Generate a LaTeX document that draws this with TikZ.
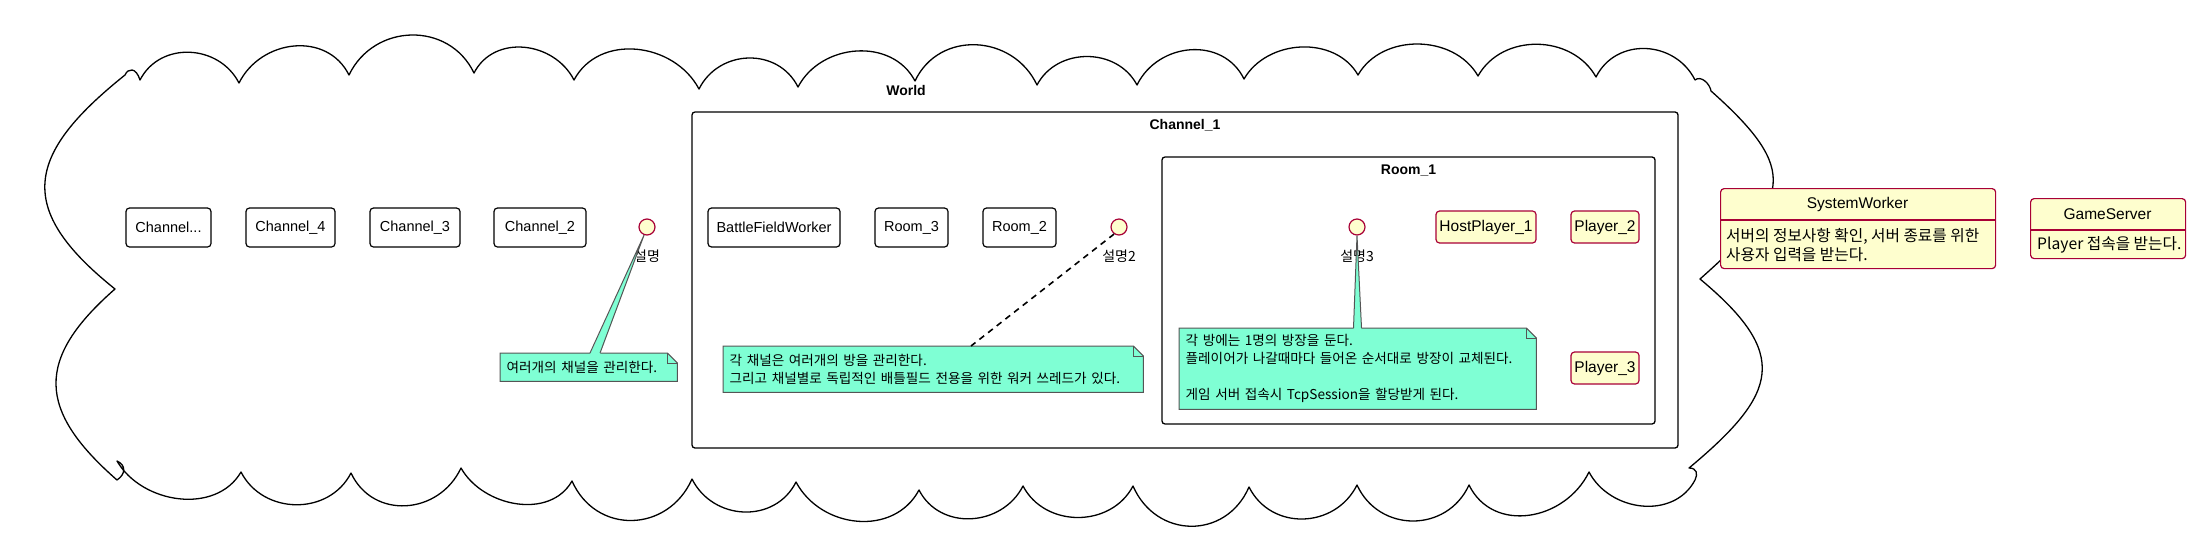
\documentclass[tikz,border=0pt]{standalone}
\usepackage{fontspec}
\setmainfont{Liberation Sans}
\newfontfamily\kr{Noto Sans CJK KR}
\usepackage{tikz}
\usetikzlibrary{calc,backgrounds}
\definecolor{umlred}{HTML}{A80036}
\definecolor{umlyellow}{HTML}{FEFECE}
\definecolor{notefill}{HTML}{7FFFD4}
\definecolor{noteline}{HTML}{555555}
\newcommand{\notebox}[1]{\begin{scope}[on background layer]
  \filldraw[notebg] (#1.north west) -- ($(#1.north east)+(-10,0)$) -- ($(#1.north east)+(0,10)$)
    -- (#1.south east) -- (#1.south west) -- cycle;
  \draw[notebg,fill=none] ($(#1.north east)+(-10,0)$) |- ($(#1.north east)+(0,10)$);\end{scope}}
\newcommand{\notetail}[4]{\fill[notefill] (#1) -- ($(#2.north west)+(#3,1.2)$) -- ($(#2.north west)+(#3+#4,1.2)$) -- cycle;
  \draw[noteline,line width=1pt] ($(#2.north west)+(#3,0)$) -- (#1) -- ($(#2.north west)+(#3+#4,0)$);}

\begin{document}
\begin{tikzpicture}[x=1pt,y=-1pt,
  cloudline/.style={line width=1.3pt,line join=round},
  pkg/.style={draw,line width=1.3pt,rounded corners=3pt},
  pkgtitle/.style={font=\bfseries\fontsize{14}{16}\selectfont},
  plainbox/.style={draw,line width=1.2pt,rounded corners=3.5pt,fill=white,minimum height=39pt,inner sep=0pt,font=\fontsize{14.5}{17}\selectfont},
  agent/.style={draw=umlred,fill=umlyellow,line width=1.2pt,rounded corners=3.5pt,minimum height=32pt,inner sep=0pt,font=\fontsize{15.5}{18}\selectfont},
  iface/.style={circle,draw=umlred,fill=umlyellow,line width=1.2pt,minimum size=16pt,inner sep=0pt},
  ilabel/.style={font=\kr\fontsize{14}{16}\selectfont},
  notetext/.style={font=\kr\fontsize{13.6}{18}\selectfont,align=left,inner xsep=6.5pt,inner ysep=0pt,anchor=north west},
  notebg/.style={fill=notefill,draw=noteline,line width=1pt},
  dashline/.style={line width=1.6pt,dash pattern=on 6pt off 5pt},
  clsbox/.style={draw=umlred,fill=umlyellow,line width=1.2pt,rounded corners=3.5pt,inner sep=0pt,anchor=north west},
  clstitle/.style={font=\fontsize{15.5}{18}\selectfont},
  clsbody/.style={font=\kr\fontsize{15.7}{19}\selectfont,align=left,anchor=west,inner sep=0pt}]
\useasboundingbox (0,0) rectangle (2191,555);

\draw[cloudline] (140,80)
  .. controls +(20,-39) and +(-20,-39) .. (239,83)
  .. controls +(22,-44) and +(-22,-44) .. (349,75)
  .. controls +(25,-52) and +(-25,-52) .. (474,73)
  .. controls +(20,-39) and +(-20,-39) .. (574,80)
  .. controls +(25,-47) and +(-25,-47) .. (699,89)
  .. controls +(20,-40) and +(-20,-40) .. (798,87)
  .. controls +(23,-44) and +(-23,-44) .. (915,81)
  .. controls +(24,-51) and +(-24,-51) .. (1037,85)
  .. controls +(20,-38) and +(-20,-38) .. (1137,85)
  .. controls +(21,-43) and +(-21,-43) .. (1244,79)
  .. controls +(23,-40) and +(-23,-40) .. (1358,75)
  .. controls +(24,-42) and +(-24,-42) .. (1478,76)
  .. controls +(24,-43) and +(-24,-43) .. (1596,77)
  .. controls +(20,-40) and +(-20,-40) .. (1695,80)
  .. controls +(6,-5) and +(-1,-7) .. (1711,91)
  .. controls +(90,80) and +(90,-80) .. (1700,279)
  .. controls +(90,75) and +(90,-75) .. (1689,468)
  .. controls +(8,0) and +(3,-6) .. (1695,480)
  .. controls +(-21,40) and +(21,40) .. (1589,472)
  .. controls +(-24,49) and +(24,49) .. (1469,485)
  .. controls +(-22,48) and +(22,48) .. (1357,485)
  .. controls +(-22,44) and +(22,44) .. (1249,487)
  .. controls +(-23,53) and +(23,53) .. (1133,486)
  .. controls +(-22,42) and +(22,42) .. (1023,486)
  .. controls +(-21,41) and +(21,41) .. (919,490)
  .. controls +(-25,47) and +(25,47) .. (796,482)
  .. controls +(-21,42) and +(21,42) .. (692,479)
  .. controls +(-24,54) and +(24,54) .. (572,481)
  .. controls +(-22,39) and +(22,39) .. (461,468)
  .. controls +(-22,47) and +(22,47) .. (351,473)
  .. controls +(-22,43) and +(22,43) .. (241,472)
  .. controls +(-25,43) and +(25,43) .. (117,461)
  .. controls +(9,4) and +(9,-6) .. (117,480)
  .. controls +(-80,-70) and +(-80,70) .. (115,289)
  .. controls +(-100,-80) and +(-100,80) .. (125,75)
  .. controls +(3,-7) and +(-4,-13) .. (140,80) -- cycle;
\node[pkgtitle] (world) at (906,90) {World};

\draw[pkg] (692,112) rectangle (1678,448);
\node[pkgtitle] (channel1) at (1185,125) {Channel\_1};
\draw[pkg] (1162,157) rectangle (1655,424);
\node[pkgtitle] (room1) at (1408.5,171) {Room\_1};

\node[plainbox,minimum width=85pt] (chdots) at (168.5,227.5) {Channel...};
\node[plainbox,minimum width=89pt] (ch4) at (290.5,227.5) {Channel\_4};
\node[plainbox,minimum width=90pt] (ch3) at (415,227.5) {Channel\_3};
\node[plainbox,minimum width=92pt] (ch2) at (540,227.5) {Channel\_2};
\node[plainbox,minimum width=132pt] (bfw) at (774,227.5) {BattleFieldWorker};
\node[plainbox,minimum width=73pt] (room3) at (911.5,227.5) {Room\_3};
\node[plainbox,minimum width=73pt] (room2) at (1019.5,227.5) {Room\_2};

\node[iface] (c1) at (647,227) {};
\node[ilabel] (c1l) at (647,256) {설명};
\node[iface] (c2) at (1119,227) {};
\node[ilabel] (c2l) at (1119,256) {설명2};
\node[iface] (c3) at (1357,227) {};
\node[ilabel] (c3l) at (1357,256) {설명3};

\node[notetext,text width=164pt,minimum height=28pt] (n1) at (500,353) {여러개의 채널을 관리한다.};
\notebox{n1}
\node[notetext,text width=407pt,minimum height=46pt] (n2) at (723,346) {각 채널은 여러개의 방을 관리한다.\\그리고 채널별로 독립적인 배틀필드 전용을 위한 워커 쓰레드가 있다.};
\notebox{n2}
\node[notetext,text width=344pt,minimum height=81pt] (n3) at (1179,328) {각 방에는 1명의 방장을 둔다.\\플레이어가 나갈때마다 들어온 순서대로 방장이 교체된다.\\[18pt]게임 서버 접속시 TcpSession을 할당받게 된다.};
\notebox{n3}
\notetail{c1.250}{n1}{90}{10}
\notetail{c3.south}{n3}{174.5}{8}
\draw[dashline] (c2.235) -- ($(n2.north west)+(248,0)$);

\node[agent,minimum width=100pt] (host1) at (1486,227) {HostPlayer\_1};
\node[agent,minimum width=68pt] (player2) at (1605,227) {Player\_2};
\node[agent,minimum width=68pt] (player3) at (1605,368) {Player\_3};

\node[clsbox,minimum width=275pt,minimum height=80pt] (sysw) at (1720,188) {};
\draw[umlred,line width=1.2pt] ($(sysw.north west)+(0,32)$) -- ($(sysw.north east)+(0,32)$);
\node[clstitle] (syswtitle) at (1857.5,204) {SystemWorker};
\node[clsbody] (syswbody) at (1726,245) {서버의 정보사항 확인, 서버 종료를 위한\\사용자 입력을 받는다.};

\node[clsbox,minimum width=155pt,minimum height=60pt] (gsrv) at (2030,198) {};
\draw[umlred,line width=1.2pt] ($(gsrv.north west)+(0,32)$) -- ($(gsrv.north east)+(0,32)$);
\node[clstitle] (gsrvtitle) at (2107.5,214) {GameServer};
\node[clsbody] (gsrvbody) at (2037,245) {Player 접속을 받는다.};
\end{tikzpicture}
\end{document}
